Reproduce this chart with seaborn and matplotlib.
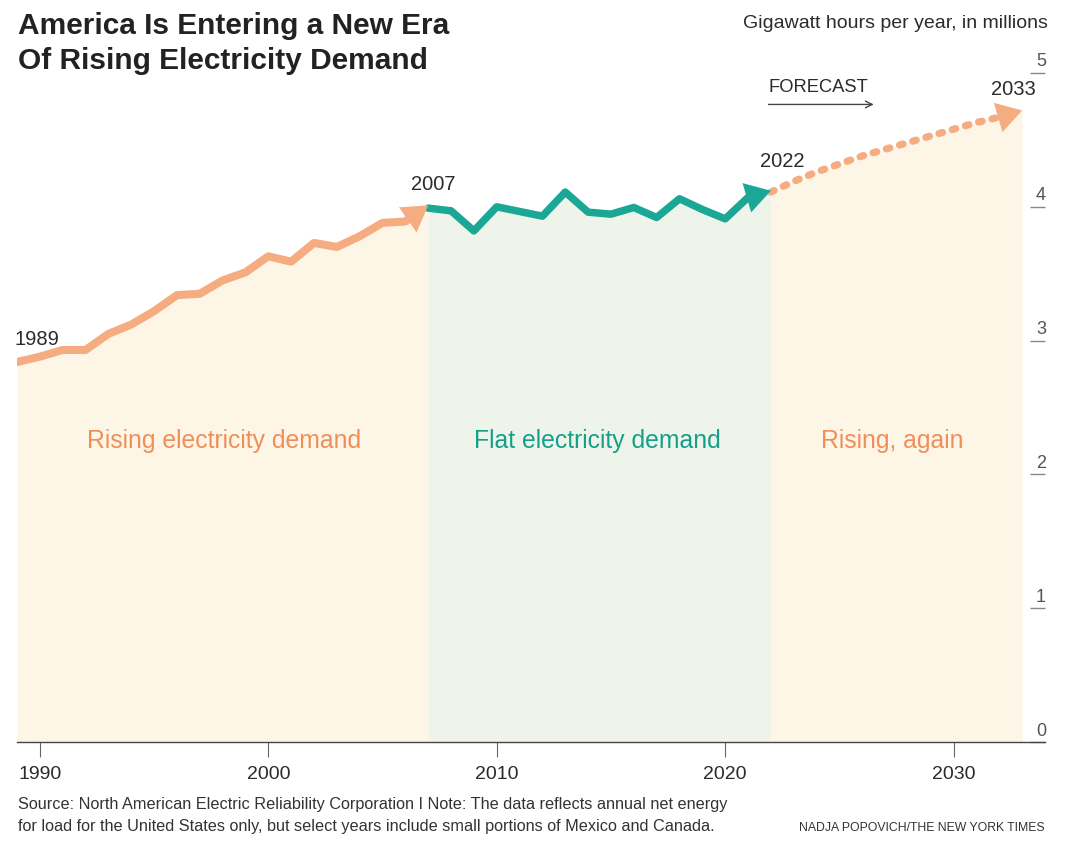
import numpy as np
import matplotlib.pyplot as plt
import matplotlib.transforms as mtransforms
import pandas as pd
import seaborn as sns

##### data #####
hist_years = list(range(1989, 2008))
hist_vals = [2.84, 2.88, 2.93, 2.93, 3.05, 3.12, 3.22, 3.34, 3.35, 3.45,
             3.51, 3.63, 3.59, 3.73, 3.70, 3.78, 3.88, 3.89, 4.01]
flat_years = list(range(2007, 2023))
flat_vals = [3.99, 3.97, 3.82, 4.00, 3.965, 3.93, 4.11, 3.96, 3.945, 3.995,
             3.92, 4.06, 3.98, 3.91, 4.07, 4.12]
fcst_years = list(range(2022, 2034))
fcst_vals = [4.11, 4.19, 4.26, 4.32, 4.38, 4.43, 4.48, 4.53, 4.58, 4.63, 4.67, 4.72]

x_ticks = [1990, 2000, 2010, 2020, 2030]
y_ticks = [0, 1, 2, 3, 4, 5]

##### style #####
orange = '#f5ac80'
orange_txt = '#f08e58'
teal = '#1aa795'
teal_txt = '#13a08b'
cream = '#fdf6e7'
green = '#eff4ea'
dark = '#2b2b2b'

sns.set_theme(style='white')
plt.rcParams['font.family'] = ['Liberation Sans', 'DejaVu Sans']

hist = pd.DataFrame({'Year': hist_years, 'GWh': hist_vals})
flat = pd.DataFrame({'Year': flat_years, 'GWh': flat_vals})
fcst = pd.DataFrame({'Year': fcst_years, 'GWh': fcst_vals})

fig = plt.figure(figsize=(10.65, 8.44), dpi=100)
ax = fig.add_axes([17 / 1065, 102 / 844, 1028 / 1065, 669 / 844])

# shaded areas under each segment
ax.fill_between(hist['Year'], 0, hist['GWh'], color=cream, lw=0, zorder=0)
ax.fill_between(flat['Year'], 0, flat['GWh'], color=green, lw=0, zorder=0)
ax.fill_between(fcst['Year'], 0, fcst['GWh'], color=cream, lw=0, zorder=0)

head = 'simple,head_length=1.8,head_width=2.2,tail_width=%.2f'

def arrow_head(df, color, tail, z):
    ax.annotate('', xy=(df['Year'].iloc[-1], df['GWh'].iloc[-1]),
                xytext=(df['Year'].iloc[-2], df['GWh'].iloc[-2]),
                arrowprops=dict(arrowstyle=head % tail, color=color, lw=0,
                                shrinkA=0, shrinkB=0, mutation_scale=10),
                zorder=z)

# solid lines stop at the second-last point, the arrow covers the last segment
sns.lineplot(data=flat.iloc[:-1], x='Year', y='GWh', color=teal, lw=5.4, ax=ax,
             zorder=3, solid_joinstyle='round')
arrow_head(flat, teal, 0.54, 4)
sns.lineplot(data=hist.iloc[:-1], x='Year', y='GWh', color=orange, lw=5.8, ax=ax,
             zorder=5, solid_joinstyle='round')
arrow_head(hist, orange, 0.58, 6)
sns.lineplot(data=fcst.iloc[:-1], x='Year', y='GWh', color=orange, lw=5.2, ax=ax,
             linestyle=(0, (0.5, 1.4)), dash_capstyle='round', zorder=3)
arrow_head(fcst, orange, 0.1, 4)

##### axes #####
ax.set_xlim(1989, 2034)
ax.set_ylim(0, 5)
ax.set_xlabel('')
ax.set_ylabel('')
for s in ['top', 'left', 'right']:
    ax.spines[s].set_visible(False)
ax.spines['bottom'].set_color('#444444')
ax.spines['bottom'].set_linewidth(1.0)

ax.set_xticks(x_ticks)
ax.tick_params(axis='x', bottom=True, direction='out', length=11, width=0.8,
               color='#666666', labelsize=14, labelcolor=dark, pad=6)
ax.yaxis.tick_right()
ax.set_yticks(y_ticks)
ax.tick_params(axis='y', right=True, left=False, direction='in', length=11, width=1.0,
               color='#888888', labelsize=13, labelcolor='#555555', pad=0)
offset = mtransforms.ScaledTranslation(-0.04, 0.13, fig.dpi_scale_trans)
for lab in ax.get_yticklabels():
    lab.set_horizontalalignment('center')
    lab.set_transform(lab.get_transform() + offset)

##### annotations #####
ax.text(1988.9, 3.01, '1989', ha='left', va='center', fontsize=14.5, color=dark)
ax.text(2007.2, 4.17, '2007', ha='center', va='center', fontsize=14.5, color=dark)
ax.text(2022.5, 4.34, '2022', ha='center', va='center', fontsize=14.5, color=dark)
ax.text(2032.6, 4.88, '2033', ha='center', va='center', fontsize=14.5, color=dark)

ax.text(1998.05, 2.25, 'Rising electricity demand', ha='center', va='center',
        fontsize=17.8, color=orange_txt)
ax.text(2014.4, 2.25, 'Flat electricity demand', ha='center', va='center',
        fontsize=17.8, color=teal_txt)
ax.text(2027.3, 2.25, 'Rising, again', ha='center', va='center',
        fontsize=17.8, color=orange_txt)

ax.text(2021.9, 4.89, 'FORECAST', ha='left', va='center', fontsize=13.2, color=dark)
ax.annotate('', xy=(2026.5, 4.765), xytext=(2021.9, 4.765),
            arrowprops=dict(arrowstyle='->,head_length=0.4,head_width=0.2', color='#444444',
                            lw=1.0, shrinkA=0, shrinkB=0))

fig.text(18 / 1065, 1 - 12 / 844, 'America Is Entering a New Era\nOf Rising Electricity Demand',
         ha='left', va='top', fontsize=21.5, fontweight='bold', color='#222222', linespacing=1.3)
fig.text(1048 / 1065, 1 - 23 / 844, 'Gigawatt hours per year, in millions',
         ha='right', va='center', fontsize=14, color=dark)
fig.text(18 / 1065, 1 - 804 / 844,
         'Source: North American Electric Reliability Corporation I Note: The data reflects annual net energy',
         ha='left', va='center', fontsize=11.7, color='#333333')
fig.text(18 / 1065, 1 - 827 / 844,
         'for load for the United States only, but select years include small portions of Mexico and Canada.',
         ha='left', va='center', fontsize=11.7, color='#333333')
fig.text(1045 / 1065, 1 - 828 / 844, 'NADJA POPOVICH/THE NEW YORK TIMES',
         ha='right', va='center', fontsize=8.8, color='#333333')

plt.savefig('out.png', dpi=100)
